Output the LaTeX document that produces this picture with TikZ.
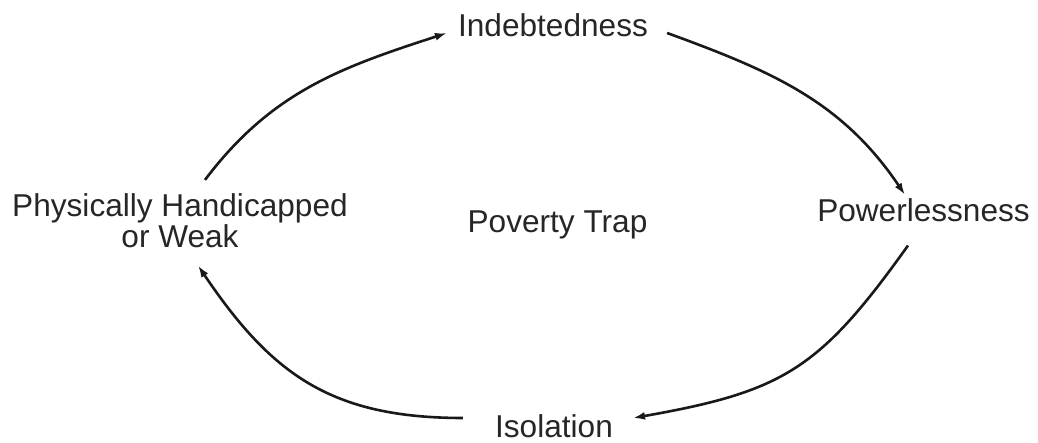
\documentclass[tikz,border=0pt]{standalone}
\usepackage{fontspec}
\setmainfont{Liberation Sans}
\usetikzlibrary{arrows.meta}
\begin{document}
\begin{tikzpicture}[x=1pt,y=1pt,
  lbl/.style={inner sep=0pt, anchor=base, font=\fontsize{31.6}{31}\selectfont, text=black!85},
  arr/.style={line width=2.6pt, black!90, -{Latex[length=12pt,width=8pt]}}]
\useasboundingbox (0,0) rectangle (1038,442);
\node[lbl] (ind) at (553,405) {Indebtedness};
\node[lbl] (pow) at (923.5,220) {Powerlessness};
\node[lbl] (pov) at (557.5,209) {Poverty Trap};
\node[lbl] (iso) at (554,5) {Isolation};
\node[lbl, align=center] (phys) at (180,194) {Physically Handicapped\\or Weak};
\draw[arr] ([shift={(25,14)}]phys.north) to[out=53,in=198] ([shift={(-11,4)}]ind.base west);
\draw[arr] ([shift={(19,4)}]ind.base east) to[out=-20,in=124] ([shift={(-18.5,4)}]pow.north);
\draw[arr] ([shift={(-15.5,-23)}]pow.south) to[out=234.5,in=10,looseness=1.2] ([shift={(20,19)}]iso.base east);
\draw[arr] ([shift={(-32,19)}]iso.base west) to[out=180,in=304,looseness=1.1] ([shift={(18,-17)}]phys.south);
\end{tikzpicture}
\end{document}
